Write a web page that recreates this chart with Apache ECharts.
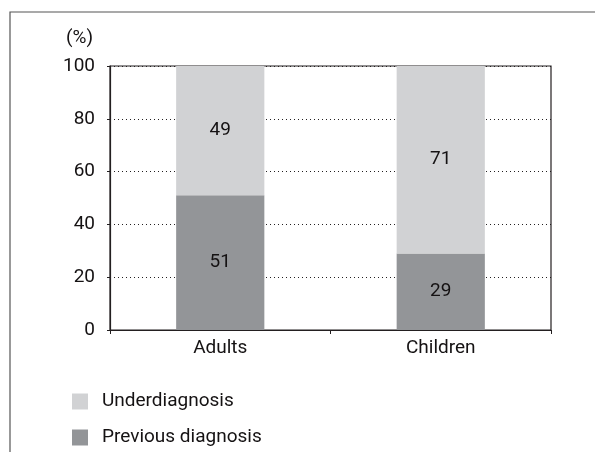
<!DOCTYPE html>
<html>
<head>
<meta charset="utf-8">
<style>
  html, body { margin: 0; padding: 0; background: #fff; }
  #chart { width: 595px; height: 452px; }
</style>
<script src="https://cdn.jsdelivr.net/npm/echarts@6/dist/echarts.min.js"></script>
</head>
<body>
<div id="chart"></div>
<script>
// Diagnosis status by age group (%)
const categories = ['Adults', 'Children'];
const previousDiagnosis = [51, 29];
const underdiagnosis = [49, 71];
const yTicks = [0, 20, 40, 60, 80, 100];

const FONT = 'Roboto, "Liberation Sans Narrow", sans-serif';
const FS = 19;
const TEXT = '#151213';
const LIGHT = '#d1d2d4';
const DARK = '#939598';

const chart = echarts.init(document.getElementById('chart'), null, { renderer: 'canvas' });

function legendBlock(name, top) {
  return {
    orient: 'vertical',
    left: 72, top: top,
    itemWidth: 16, itemHeight: 16,
    icon: 'rect',
    padding: 0,
    data: [name],
    formatter: '{t|{name}}',
    textStyle: {
      fontFamily: FONT, fontSize: FS, color: TEXT,
      rich: { t: { fontFamily: FONT, fontSize: FS, color: TEXT, padding: [0, 0, 0, 9] } }
    }
  };
}

chart.setOption({
  animation: false,
  backgroundColor: '#fff',
  textStyle: { fontFamily: FONT, color: TEXT },
  grid: {
    left: 110, right: 44, top: 66, bottom: 122,
    show: true, borderColor: '#231f20', borderWidth: 1.2, backgroundColor: 'transparent'
  },
  legend: [
    legendBlock('Underdiagnosis', 392),
    legendBlock('Previous diagnosis', 428)
  ],
  xAxis: {
    type: 'category',
    data: categories,
    axisLine: { lineStyle: { color: '#231f20', width: 1.2 } },
    axisTick: { show: true, length: 4, lineStyle: { color: '#231f20' } },
    axisLabel: { fontFamily: FONT, fontSize: FS, color: TEXT, margin: 9 }
  },
  yAxis: {
    type: 'value',
    min: 0, max: yTicks[yTicks.length - 1], interval: yTicks[1] - yTicks[0],
    name: '(%)',
    nameLocation: 'end',
    nameGap: 18,
    nameTextStyle: { fontFamily: FONT, fontSize: FS, color: TEXT, align: 'right', padding: [0, 17, 0, 0] },
    axisLine: { show: true, lineStyle: { color: '#231f20', width: 1.2 } },
    axisTick: { show: true, length: 3, lineStyle: { color: '#231f20' } },
    axisLabel: { fontFamily: FONT, fontSize: FS, color: TEXT, margin: 15 },
    splitLine: { show: true, lineStyle: { color: '#231f20', type: [1, 3], width: 1 } }
  },
  series: [
    {
      name: 'Previous diagnosis',
      type: 'bar',
      stack: 'total',
      data: previousDiagnosis,
      barWidth: '40%',
      itemStyle: { color: DARK },
      label: { show: true, position: 'inside', fontFamily: FONT, fontSize: FS, color: TEXT }
    },
    {
      name: 'Underdiagnosis',
      type: 'bar',
      stack: 'total',
      data: underdiagnosis,
      barWidth: '40%',
      itemStyle: { color: LIGHT },
      label: { show: true, position: 'inside', fontFamily: FONT, fontSize: FS, color: TEXT }
    }
  ],
  graphic: [
    {
      type: 'polyline',
      shape: { points: [[10, 452], [10, 12], [595, 12]] },
      style: { stroke: '#555', lineWidth: 1.2, fill: null },
      silent: true
    }
  ]
});
</script>
</body>
</html>
